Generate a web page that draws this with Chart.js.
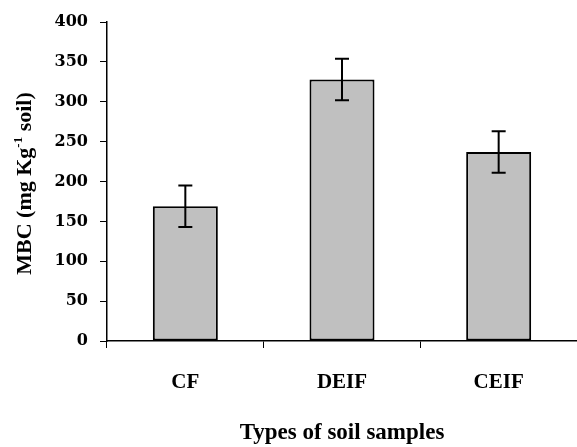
<!DOCTYPE html>
<html>
<head>
<meta charset="utf-8">
<script src="https://cdn.jsdelivr.net/npm/chart.js@4.4.1/dist/chart.umd.min.js"></script>
<style>
  html, body { margin: 0; padding: 0; background: #fff; }
  #wrap { width: 577px; height: 447px; }
</style>
</head>
<body>
<div id="wrap"><canvas id="mbcChart" width="577" height="447"></canvas></div>
<script>
const categories = ["CF", "DEIF", "CEIF"];
const mbcValues = [169, 328, 237];
const mbcErrors = [26, 26, 26];
const yTicks = [0, 50, 100, 150, 200, 250, 300, 350, 400];

// error bars drawn from the y scale
const errorBars = {
    id: "errorBars",
    afterDatasetsDraw(chart) {
        const ctx = chart.ctx;
        const yScale = chart.scales.y;
        const meta = chart.getDatasetMeta(0);
        ctx.save();
        ctx.strokeStyle = "#000";
        ctx.lineWidth = 2;
        meta.data.forEach((bar, i) => {
            const top = yScale.getPixelForValue(mbcValues[i] + mbcErrors[i]);
            const bottom = yScale.getPixelForValue(mbcValues[i] - mbcErrors[i]);
            ctx.beginPath();
            ctx.moveTo(bar.x, top);
            ctx.lineTo(bar.x, bottom);
            ctx.moveTo(bar.x - 7, top);
            ctx.lineTo(bar.x + 7, top);
            ctx.moveTo(bar.x - 7, bottom);
            ctx.lineTo(bar.x + 7, bottom);
            ctx.stroke();
        });
        ctx.restore();
    }
};

// y title with superscript
const yTitle = {
    id: "yTitle",
    afterDraw(chart) {
        const ctx = chart.ctx;
        const area = chart.chartArea;
        const big = "bold 22px 'Liberation Serif'";
        const small = "bold 13px 'Liberation Serif'";
        const parts = [
            { t: "MBC (mg Kg", f: big, dy: 0 },
            { t: "-1", f: small, dy: -9 },
            { t: " soil)", f: big, dy: 0 }
        ];
        let total = 0;
        parts.forEach(p => { ctx.font = p.f; p.w = ctx.measureText(p.t).width; total += p.w; });
        ctx.save();
        ctx.translate(31, (area.top + area.bottom) / 2 + 2);
        ctx.rotate(-Math.PI / 2);
        ctx.fillStyle = "#000";
        ctx.textBaseline = "alphabetic";
        ctx.textAlign = "left";
        let x = -total / 2;
        parts.forEach(p => {
            ctx.font = p.f;
            ctx.fillText(p.t, x, p.dy);
            x += p.w;
        });
        ctx.restore();
    }
};

new Chart(document.getElementById("mbcChart"), {
    type: "bar",
    data: {
        labels: categories,
        datasets: [
            {
                label: "MBC",
                data: mbcValues,
                backgroundColor: "#c0c0c0",
                borderColor: "#000",
                borderWidth: 2,
                borderSkipped: false,
                categoryPercentage: 1,
                barPercentage: 0.415,
            },
        ],
    },
    options: {
        responsive: false,
        animation: false,
        layout: { padding: { top: 22, right: 0, left: 0, bottom: 0 } },
        plugins: {
            legend: { display: false },
            tooltip: { enabled: false },
        },
        scales: {
            x: {
                offset: true,
                grid: {
                    offset: true,
                    drawOnChartArea: false,
                    tickLength: 7,
                    color: "#000",
                    lineWidth: 1,
                },
                border: { color: "#000", width: 1.5 },
                ticks: {
                    color: "#000",
                    padding: 22,
                    font: { family: "'Liberation Serif'", size: 21, weight: "bold" },
                },
                title: {
                    display: true,
                    text: "Types of soil samples",
                    color: "#000",
                    padding: { top: 0, bottom: 0 },
                    font: { family: "'Liberation Serif'", size: 23, weight: "bold" },
                },
                afterFit(scale) { scale.height = 106; },
            },
            y: {
                min: 0,
                max: 400,
                afterBuildTicks(scale) { scale.ticks = yTicks.map(v => ({ value: v })); },
                grid: {
                    drawOnChartArea: false,
                    tickLength: 7,
                    color: "#000",
                    lineWidth: 1,
                },
                border: { color: "#000", width: 1.5 },
                ticks: {
                    color: "#000",
                    padding: 12,
                    font: { family: "'DejaVu Serif'", size: 16, weight: "bold" },
                },
                afterFit(scale) { scale.width = 107; },
            },
        },
    },
    plugins: [errorBars, yTitle],
});
</script>
</body>
</html>
